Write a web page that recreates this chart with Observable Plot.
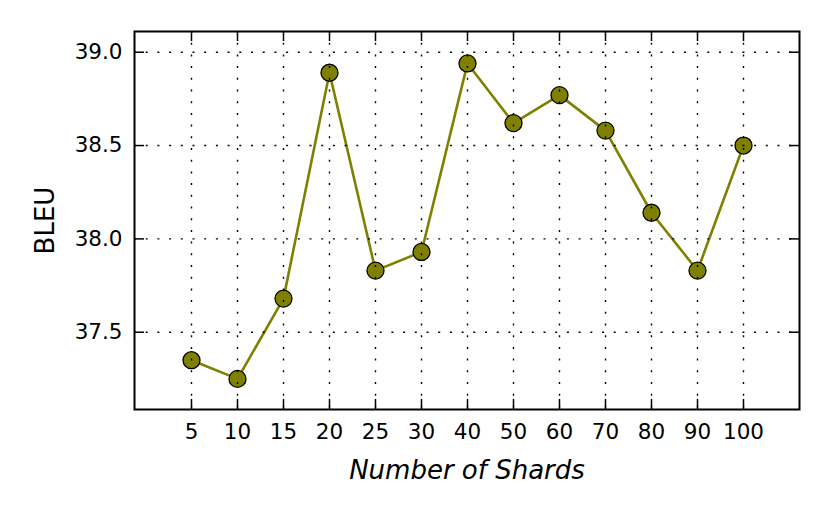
<!DOCTYPE html>
<html>
<head>
<meta charset="utf-8">
<script src="https://cdn.jsdelivr.net/npm/d3@7"></script>
<script src="https://cdn.jsdelivr.net/npm/@observablehq/plot@0.6"></script>
<style>
  html, body { margin: 0; padding: 0; background: #fff; }
  #chart svg { font-family: "DejaVu Sans", sans-serif; }
</style>
</head>
<body>
<div id="chart"></div>
<script>
const shards = ["5", "10", "15", "20", "25", "30", "40", "50", "60", "70", "80", "90", "100"];
const bleu = [37.35, 37.25, 37.68, 38.89, 37.83, 37.93, 38.94, 38.62, 38.77, 38.58, 38.14, 37.83, 38.50];
const yTicks = [37.5, 38.0, 38.5, 39.0];
const xLabel = "Number of Shards";
const yLabel = "BLEU";

const data = shards.map((s, i) => ({shards: s, bleu: bleu[i]}));
const olive = "#808000";
const font = "DejaVu Sans";

const W = 830, H = 519, mL = 134, mR = 31, mT = 31, mB = 110;
const plotW = W - mL - mR, plotH = H - mT - mB;
const tk = 10;

const chart = Plot.plot({
  width: W,
  height: H,
  marginLeft: mL,
  marginRight: mR,
  marginTop: mT,
  marginBottom: mB,
  style: {fontFamily: font, background: "white"},
  x: {type: "point", domain: shards, padding: 1.2, axis: null},
  y: {domain: [37.086, 39.111], axis: null},
  marks: [
    Plot.line(data, {x: "shards", y: "bleu", stroke: olive, strokeWidth: 2.6}),
    Plot.dot(data, {x: "shards", y: "bleu", r: 8.5, fill: olive, stroke: "black", strokeWidth: 1.3}),
    Plot.gridX(shards, {stroke: "black", strokeOpacity: 1, strokeWidth: 1.4, strokeDasharray: "2,9.7"}),
    Plot.gridY(yTicks, {stroke: "black", strokeOpacity: 1, strokeWidth: 1.4, strokeDasharray: "2,9.7"}),
    // inward ticks (bottom, top, left, right)
    Plot.tickX(shards, {x: d => d, insetTop: plotH - tk, stroke: "black", strokeWidth: 1.5}),
    Plot.tickX(shards, {x: d => d, insetBottom: plotH - tk, stroke: "black", strokeWidth: 1.5}),
    Plot.tickY(yTicks, {y: d => d, insetRight: plotW - tk, stroke: "black", strokeWidth: 1.5}),
    Plot.tickY(yTicks, {y: d => d, insetLeft: plotW - tk, stroke: "black", strokeWidth: 1.5}),
    Plot.frame({stroke: "black", strokeWidth: 2}),
    // tick labels
    Plot.axisX(shards, {anchor: "bottom", tickSize: 0, tickPadding: 14, fontSize: 21.5, fill: "black", label: null}),
    Plot.axisY(yTicks, {anchor: "left", tickSize: 0, tickPadding: 12, fontSize: 21.5, fill: "black", tickFormat: ".1f", label: null}),
    // axis titles
    Plot.text([xLabel], {frameAnchor: "bottom", dy: 69, lineAnchor: "bottom", fontSize: 26, fontStyle: "italic", fill: "black"}),
    Plot.text([yLabel], {frameAnchor: "left", dx: -81, rotate: -90, lineAnchor: "bottom", textAnchor: "middle", fontSize: 26, fill: "black"})
  ]
});
document.getElementById("chart").appendChild(chart);
</script>
</body>
</html>
